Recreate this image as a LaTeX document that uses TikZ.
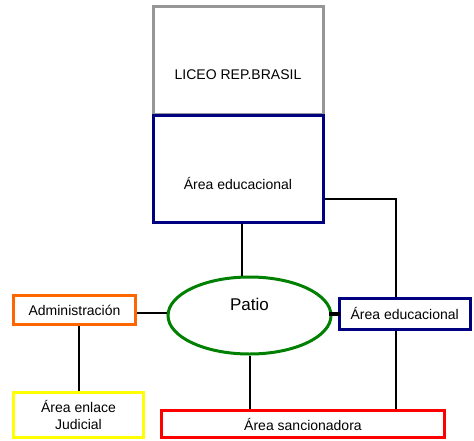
\documentclass[tikz,border=0pt]{standalone}
\usepackage{fontspec}
\setmainfont{Liberation Sans}
\usepackage{tikz}
\usepackage{xcolor}
\usetikzlibrary{arrows.meta, positioning, shapes}
\definecolor{myblue}{RGB}{0, 0, 128}
\definecolor{myred}{RGB}{255, 0, 0}
\definecolor{mygreen}{RGB}{0, 128, 0}
\definecolor{mygray}{RGB}{150, 150, 150}
\definecolor{myorange}{RGB}{255, 102, 0}
\definecolor{myyellow}{RGB}{255, 255, 0}

\tikzset{
  area/.style={rectangle, line width=3pt, inner sep=0pt, fill=white,
    font=\fontsize{14}{17}\selectfont, align=center},
  link/.style={line width=2pt, black}
}

\begin{document}
\begin{tikzpicture}[x=1pt,y=-1pt]
        \useasboundingbox (0,0) rectangle (474,440);
        \node[area,draw=mygray,minimum width=170pt,minimum height=108pt,
          label={[font=\fontsize{14}{17}\selectfont,yshift=-15pt]center:LICEO REP.BRASIL}]
          (liceo) at (238,60){};
        \node[area,draw=myblue,minimum width=170pt,minimum height=107pt,
          label={[font=\fontsize{14}{17}\selectfont,yshift=-15pt]center:Área educacional}]
          (edu) at (238,168.5){};
        \node[draw=mygreen,ellipse,line width=3pt,minimum width=163pt,minimum height=77pt,inner sep=0pt,
          label={[font=\fontsize{17}{20}\selectfont,yshift=11pt]center:Patio}]
          (patio) at (249.5,315.5){};
        \node[area,draw=myorange,minimum width=122pt,minimum height=29pt]
          (admin) at (74.5,310){Administración};
        \node[area,draw=myblue,minimum width=130.5pt,minimum height=31pt]
          (edu2) at (404.75,313.5){Área educacional};
        \node[area,draw=myyellow,minimum width=130pt,minimum height=45pt]
          (judicial) at (78.5,415){Área enlace\\Judicial};
        \node[area,draw=myred,minimum width=283pt,minimum height=27pt]
          (sanc) at (303,424){Área sancionadora};
        % connectors
        \draw[link]([xshift=4pt]edu.south)--([xshift=4pt]edu.south |- patio.north);
        \draw[link]([yshift=-30.5pt]edu.east)-|([xshift=-9pt]edu2.north);
        \draw[link]([xshift=-9pt]edu2.south)--([xshift=-9pt]edu2.south |- sanc.north);
        \draw[link]([yshift=-3pt]admin.east)--([yshift=-3pt]admin.east -| patio.west);
        \draw[link]([xshift=4.5pt]admin.south)--([xshift=4.5pt]admin.south |- judicial.north);
        \draw[link](patio.south)--(patio.south |- sanc.north);
        \draw[line width=4pt]([xshift=-4pt]patio.east |- edu2.west)--([xshift=2pt]edu2.west);
      \end{tikzpicture}
\end{document}
